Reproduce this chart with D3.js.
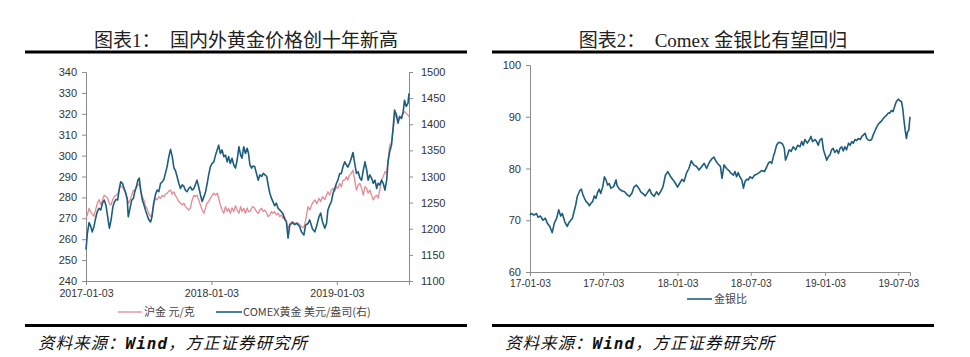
<!DOCTYPE html>
<html>
<head>
<meta charset="utf-8">
<script src="https://cdn.jsdelivr.net/npm/d3@7"></script>
<style>
html,body{margin:0;padding:0;background:#fff;}
svg{display:block;}
</style>
</head>
<body>
<svg id="c" width="970" height="357"></svg>
<script>
// ---------- DATA ----------
const goldDates = [
"2017-01-03","2017-01-07","2017-01-12","2017-01-17","2017-01-21","2017-01-26","2017-01-31","2017-02-05","2017-02-10","2017-02-15",
"2017-02-20","2017-02-25","2017-03-02","2017-03-07","2017-03-12","2017-03-17","2017-03-22","2017-03-26","2017-03-31","2017-04-05",
"2017-04-10","2017-04-14","2017-04-19","2017-04-24","2017-04-29","2017-05-03","2017-05-06","2017-05-11","2017-05-16","2017-05-21",
"2017-05-25","2017-05-31","2017-06-03","2017-06-07","2017-06-11","2017-06-16","2017-06-21","2017-06-25","2017-06-30","2017-07-05",
"2017-07-10","2017-07-14","2017-07-19","2017-07-24","2017-07-29","2017-08-03","2017-08-08","2017-08-13","2017-08-18","2017-08-22",
"2017-08-27","2017-09-01","2017-09-06","2017-09-11","2017-09-16","2017-09-20","2017-09-25","2017-09-30","2017-10-05","2017-10-10",
"2017-10-15","2017-10-19","2017-10-24","2017-10-29","2017-11-03","2017-11-08","2017-11-13","2017-11-17","2017-11-22","2017-11-27",
"2017-12-02","2017-12-07","2017-12-12","2017-12-17","2017-12-21","2017-12-26","2017-12-31","2018-01-05","2018-01-10","2018-01-15",
"2018-01-20","2018-01-24","2018-01-29","2018-02-03","2018-02-08","2018-02-13","2018-02-18","2018-02-22","2018-02-27","2018-03-04",
"2018-03-09","2018-03-14","2018-03-19","2018-03-24","2018-03-29","2018-04-02","2018-04-07","2018-04-12","2018-04-17","2018-04-21",
"2018-04-25","2018-04-30","2018-05-04","2018-05-09","2018-05-14","2018-05-19","2018-05-24","2018-05-29","2018-06-03","2018-06-08",
"2018-06-13","2018-06-17","2018-06-22","2018-06-27","2018-07-01","2018-07-06","2018-07-11","2018-07-16","2018-07-21","2018-07-26",
"2018-07-30","2018-08-04","2018-08-09","2018-08-14","2018-08-19","2018-08-27","2018-09-02","2018-09-09","2018-09-17","2018-09-22",
"2018-09-29","2018-10-04","2018-10-11","2018-10-16","2018-10-24","2018-10-31","2018-11-06","2018-11-12","2018-11-17","2018-11-22",
"2018-11-29","2018-12-04","2018-12-08","2018-12-13","2018-12-18","2018-12-23","2018-12-28","2019-01-02","2019-01-06","2019-01-11",
"2019-01-16","2019-01-21","2019-01-26","2019-01-31","2019-02-04","2019-02-09","2019-02-14","2019-02-19","2019-02-24","2019-03-01",
"2019-03-06","2019-03-11","2019-03-16","2019-03-21","2019-03-26","2019-03-31","2019-04-04","2019-04-09","2019-04-14","2019-04-19",
"2019-04-24","2019-04-29","2019-05-03","2019-05-08","2019-05-13","2019-05-18","2019-05-23","2019-05-28","2019-06-01","2019-06-06",
"2019-06-11","2019-06-16","2019-06-20","2019-06-25","2019-06-30","2019-07-05","2019-07-10","2019-07-15","2019-07-19","2019-07-24",
"2019-07-29","2019-08-01"];
const comexGold = [
1160,1191,1212,1204,1194,1204,1220,1233,1239,1236,
1249,1255,1245,1223,1201,1217,1241,1250,1256,1255,
1277,1290,1287,1277,1268,1255,1223,1239,1255,1258,
1271,1284,1293,1297,1274,1255,1245,1236,1226,1217,
1213,1223,1249,1265,1274,1271,1287,1290,1295,1306,
1319,1338,1352,1338,1316,1312,1300,1287,1277,1284,
1281,1274,1271,1277,1280,1274,1277,1284,1293,1280,
1265,1252,1261,1271,1284,1303,1319,1325,1328,1341,
1351,1360,1344,1351,1338,1341,1328,1338,1325,1335,
1322,1316,1332,1357,1341,1335,1357,1344,1354,1344,
1322,1316,1320,1319,1306,1293,1303,1300,1306,1303,
1300,1284,1268,1258,1252,1244,1249,1239,1236,1232,
1229,1218,1214,1182,1207,1212,1208,1210,1204,1194,
1188,1207,1210,1217,1200,1194,1207,1223,1230,1214,
1201,1210,1236,1245,1252,1268,1277,1287,1293,1305,
1306,1319,1328,1322,1318,1325,1335,1346,1325,1306,
1309,1297,1293,1312,1328,1312,1293,1303,1297,1287,
1293,1277,1287,1284,1293,1287,1274,1293,1328,1348,
1360,1395,1427,1418,1402,1415,1411,1424,1446,1434,
1440,1459];
const shfeGold = [
270,271.6,274.8,273,272,271,274,277.2,279,276.4,
278.8,281.1,280.3,279.6,277,276.4,279,280.3,281,281.5,
284,285.5,285,283.5,281.5,280,277,278.8,281,283.5,
283,285,286,286.5,283.5,280.3,278.5,276,274.5,272,
270.8,272,276.4,279.6,278.8,280.3,279.6,281,280.3,281.5,
282,283,283.5,281.5,282.7,281,279.6,278,277.2,276.4,
277.2,275.6,274.8,274,275,278.8,281,280.3,281.1,278.8,
276.4,274,272.4,275,277.2,278,279.6,281,282,281.1,
282,279.6,276.4,274,272.4,275.6,273.2,274.8,272.4,275,
273.2,276,274,272.4,275.6,273.2,274.8,272.4,275,273.2,
273.2,274.8,275.6,274.8,273.2,272.4,274,274.8,273.2,274,
272.4,270.8,271.6,273.2,272.4,273.2,271.6,272.4,270.8,271.6,
270,270.8,268.5,265,267.5,268.5,267.5,268,267,266,
265.5,269,275.6,274,277.2,278.8,277,279.6,278,280.3,
279,281.1,282.7,281.1,283.5,284.3,283,285.1,284.3,286.7,
285.1,288.3,288.3,289.9,288.3,290.7,291.5,293.1,288.3,283.5,
285.9,286.7,284.3,281.1,285.1,284.3,282,283.5,281.1,278.8,
280.3,281.1,279.6,283.5,288.3,289.9,292.3,291.5,297.9,305.1,
305.9,312.3,317.8,320.2,317,318.6,317.8,320.2,321,320.2,
319.4,318.6];
const leftTicks = [240,250,260,270,280,290,300,310,320,330,340];
const rightTicks = [1100,1150,1200,1250,1300,1350,1400,1450,1500];
const goldXTicks = ["2017-01-03","2018-01-03","2019-01-03"];

const ratioDates = [
"2017-01-03","2017-01-06","2017-01-13","2017-01-19","2017-01-23","2017-01-29","2017-02-04","2017-02-10","2017-02-15","2017-02-21",
"2017-02-27","2017-03-04","2017-03-10","2017-03-15","2017-03-20","2017-03-24","2017-03-30","2017-04-05","2017-04-09","2017-04-14",
"2017-04-18","2017-04-22","2017-04-26","2017-04-30","2017-05-06","2017-05-10","2017-05-14","2017-05-18","2017-05-22","2017-05-26",
"2017-05-30","2017-06-03","2017-06-07","2017-06-11","2017-06-15","2017-06-19","2017-06-23","2017-06-27","2017-07-02","2017-07-06",
"2017-07-10","2017-07-14","2017-07-18","2017-07-22","2017-07-29","2017-08-04","2017-08-06","2017-08-12","2017-08-18","2017-08-25",
"2017-09-01","2017-09-06","2017-09-12","2017-09-17","2017-09-23","2017-09-29","2017-10-04","2017-10-10","2017-10-15","2017-10-20",
"2017-10-26","2017-10-30","2017-11-06","2017-11-12","2017-11-17","2017-11-22","2017-11-28","2017-12-04","2017-12-10","2017-12-17",
"2017-12-23","2017-12-29","2018-01-03","2018-01-08","2018-01-14","2018-01-19","2018-01-25","2018-01-31","2018-02-06","2018-02-12",
"2018-02-19","2018-02-25","2018-03-04","2018-03-10","2018-03-16","2018-03-22","2018-03-28","2018-04-03","2018-04-09","2018-04-15",
"2018-04-19","2018-04-23","2018-04-28","2018-05-04","2018-05-10","2018-05-15","2018-05-21","2018-05-25","2018-05-29","2018-06-02",
"2018-06-06","2018-06-11","2018-06-15","2018-06-19","2018-06-23","2018-06-27","2018-07-01","2018-07-07","2018-07-12","2018-07-18",
"2018-07-24","2018-07-30","2018-08-06","2018-08-11","2018-08-16","2018-08-20","2018-08-24","2018-08-28","2018-09-01","2018-09-05",
"2018-09-09","2018-09-15","2018-09-20","2018-09-24","2018-09-27","2018-10-02","2018-10-06","2018-10-11","2018-10-16","2018-10-22",
"2018-10-27","2018-11-02","2018-11-06","2018-11-10","2018-11-14","2018-11-20","2018-11-25","2018-11-29","2018-12-03","2018-12-09",
"2018-12-13","2018-12-17","2018-12-21","2018-12-26","2018-12-30","2019-01-03","2019-01-07","2019-01-11","2019-01-15","2019-01-19",
"2019-01-23","2019-01-27","2019-02-01","2019-02-05","2019-02-09","2019-02-13","2019-02-17","2019-02-21","2019-02-25","2019-03-02",
"2019-03-06","2019-03-10","2019-03-14","2019-03-18","2019-03-22","2019-03-26","2019-03-31","2019-04-04","2019-04-08","2019-04-12",
"2019-04-16","2019-04-20","2019-04-24","2019-04-28","2019-05-02","2019-05-07","2019-05-11","2019-05-15","2019-05-19","2019-05-23",
"2019-05-27","2019-05-31","2019-06-04","2019-06-08","2019-06-12","2019-06-16","2019-06-20","2019-06-24","2019-06-28","2019-07-03",
"2019-07-07","2019-07-11","2019-07-14","2019-07-17","2019-07-20","2019-07-23","2019-07-26","2019-07-29","2019-08-01"];
const ratioValues = [
71.0,71.3,71.0,71.3,70.6,70.8,70.0,70.4,69.4,68.8,
67.6,69.4,70.4,72.0,70.8,71.3,69.7,68.8,69.5,70.0,
70.4,71.7,72.9,74.6,75.7,76.0,74.9,74.2,73.6,73.3,
72.8,73.3,73.6,74.7,74.2,75.3,76.0,75.2,76.5,78.4,
77.8,76.8,77.1,76.2,76.5,77.8,76.8,76.0,75.7,75.5,
74.9,74.6,75.2,76.4,76.8,76.2,75.5,75.1,74.7,75.3,
76.0,75.2,74.6,75.5,74.9,75.5,76.5,78.7,79.4,78.4,
77.8,77.1,76.4,77.1,77.9,77.5,79.1,80.0,81.5,80.7,
80.4,79.7,80.4,81.0,80.0,81.1,81.8,82.2,81.3,80.7,
80.4,78.1,80.7,80.0,79.6,79.1,78.7,79.4,78.4,79.2,
78.4,77.8,76.2,77.5,77.9,77.8,78.4,78.1,78.7,78.9,
79.2,79.6,79.4,80.2,81.1,81.3,81.0,82.3,83.3,84.5,
85.0,85.0,84.7,83.9,81.6,82.6,83.6,83.3,84.2,83.6,
84.5,84.2,85.2,84.5,85.6,84.9,85.5,86.2,85.2,85.6,
85.2,84.5,85.5,85.8,83.6,82.6,81.6,82.3,82.6,83.6,
83.9,83.1,83.6,82.9,83.9,84.2,83.4,84.2,83.6,84.9,
84.5,85.2,84.9,85.6,85.4,85.8,85.6,86.2,86.5,86.8,
85.8,85.5,85.4,85.6,86.5,87.4,88.1,88.6,88.9,89.2,
89.7,90.0,90.3,90.7,90.7,91.2,91.0,92.0,92.9,93.4,
93.1,92.9,91.6,89.4,87.4,85.8,87.1,87.4,90.0];
const ratioTicks = [60,70,80,90,100];
const ratioXTicks = ["2017-01-03","2017-07-03","2018-01-03","2018-07-03","2019-01-03","2019-07-03"];

const titles = ["图表1：\u00a0\u00a0国内外黄金价格创十年新高","图表2：\u00a0\u00a0Comex 金银比有望回归"];
const legend1 = ["沪金 元/克","COMEX黄金 美元/盎司(右)"];
const legend2 = ["金银比"];
const sourceParts = ["资料来源：","Wind","，方正证券研究所"];

// ---------- STYLE ----------
const BLUE = "#1d5d7e", PINK = "#e58a92", AXIS = "#8c8c8c", TXT = "#333";
const tickFont = "'Liberation Sans', Arial, sans-serif";
const parse = d3.timeParse("%Y-%m-%d");
const svg = d3.select("#c");

function header(x0, x1, title) {
  svg.append("text").attr("x", (x0 + x1) / 2).attr("y", 47)
    .attr("text-anchor", "middle")
    .attr("font-family", "'Liberation Serif','Noto Sans CJK SC',serif")
    .attr("font-size", 19).attr("fill", "#222").text(title);
  svg.append("line").attr("x1", x0).attr("x2", x1).attr("y1", 52).attr("y2", 52)
    .attr("stroke", "#000").attr("stroke-width", 3);
  svg.append("line").attr("x1", x0).attr("x2", x1).attr("y1", 325.5).attr("y2", 325.5)
    .attr("stroke", "#000").attr("stroke-width", 3);
  const t = svg.append("text").attr("x", x0 + 13).attr("y", 349)
    .attr("font-family", "'Noto Sans CJK SC',sans-serif")
    .attr("font-style", "italic").attr("font-size", 16.5).attr("letter-spacing", 1).attr("fill", "#111");
  t.append("tspan").text(sourceParts[0]);
  t.append("tspan").attr("font-family", "'DejaVu Sans Mono',monospace").attr("font-weight", "bold").attr("font-size", 16).text(sourceParts[1]);
  t.append("tspan").text(sourceParts[2]);
}

function styleAxis(g, fs) {
  g.selectAll("path.domain").attr("stroke", AXIS);
  g.selectAll(".tick line").attr("stroke", AXIS);
  g.selectAll(".tick text").attr("fill", TXT).attr("font-family", tickFont).attr("font-size", fs);
}

// ---------- CHART 1 ----------
header(25, 467, titles[0]);
{
  const x = d3.scaleTime().domain([parse("2017-01-03"), parse("2019-08-01")]).range([86, 409]);
  const yL = d3.scaleLinear().domain([240, 340]).range([281, 72]);
  const yR = d3.scaleLinear().domain([1100, 1500]).range([281, 72]);
  const dates = goldDates.map(parse);

  const gx = svg.append("g").attr("transform", "translate(0,281)")
    .call(d3.axisBottom(x).tickValues(goldXTicks.map(parse)).tickFormat(d3.timeFormat("%Y-%m-%d")).tickSizeOuter(0).tickSize(4).tickPadding(4));
  styleAxis(gx, 10.6);
  const gl = svg.append("g").attr("transform", "translate(86,0)")
    .call(d3.axisLeft(yL).tickValues(leftTicks).tickFormat(d3.format("d")).tickSizeOuter(0).tickSize(4).tickPadding(5));
  styleAxis(gl, 11);
  const gr = svg.append("g").attr("transform", "translate(409,0)")
    .call(d3.axisRight(yR).tickValues(rightTicks).tickFormat(d3.format("d")).tickSizeOuter(0).tickSize(4).tickPadding(8));
  styleAxis(gr, 11);

  const lineP = d3.line().x((d, i) => x(dates[i])).y(d => yL(d));
  const lineB = d3.line().x((d, i) => x(dates[i])).y(d => yR(d));
  svg.append("path").datum(shfeGold).attr("d", lineP).attr("fill", "none").attr("stroke", PINK).attr("stroke-width", 1.3).attr("stroke-linejoin", "round");
  svg.append("path").datum(comexGold).attr("d", lineB).attr("fill", "none").attr("stroke", BLUE).attr("stroke-width", 1.6).attr("stroke-linejoin", "round");

  const lg = svg.append("g").attr("font-family", "'Noto Sans CJK SC',sans-serif").attr("font-size", 11).attr("fill", "#444");
  lg.append("line").attr("x1", 118).attr("x2", 142).attr("y1", 312).attr("y2", 312).attr("stroke", PINK).attr("stroke-width", 1.3);
  lg.append("text").attr("x", 144).attr("y", 316).text(legend1[0]);
  lg.append("line").attr("x1", 216).attr("x2", 242).attr("y1", 312).attr("y2", 312).attr("stroke", BLUE).attr("stroke-width", 1.6);
  lg.append("text").attr("x", 243).attr("y", 316).text(legend1[1]);
}

// ---------- CHART 2 ----------
header(492, 934, titles[1]);
{
  const x = d3.scaleTime().domain([parse("2017-01-03"), parse("2019-08-01")]).range([530, 910]);
  const y = d3.scaleLinear().domain([60, 100]).range([272, 65]);
  const dates = ratioDates.map(parse);

  const gx = svg.append("g").attr("transform", "translate(0,272)")
    .call(d3.axisBottom(x).tickValues(ratioXTicks.map(parse)).tickFormat(d3.timeFormat("%y-%m-%d")).tickSizeOuter(0).tickSize(4).tickPadding(4));
  styleAxis(gx, 10.2);
  const gy = svg.append("g").attr("transform", "translate(530,0)")
    .call(d3.axisLeft(y).tickValues(ratioTicks).tickSizeOuter(0).tickSize(4).tickPadding(5));
  styleAxis(gy, 11);

  const line = d3.line().x((d, i) => x(dates[i])).y(d => y(d));
  svg.append("path").datum(ratioValues).attr("d", line).attr("fill", "none").attr("stroke", BLUE).attr("stroke-width", 1.6).attr("stroke-linejoin", "round");

  const lg = svg.append("g").attr("font-family", "'Noto Sans CJK SC',sans-serif").attr("font-size", 11).attr("fill", "#444");
  lg.append("line").attr("x1", 687).attr("x2", 712).attr("y1", 299).attr("y2", 299).attr("stroke", BLUE).attr("stroke-width", 1.6);
  lg.append("text").attr("x", 714).attr("y", 303).text(legend2[0]);
}
</script>
</body>
</html>
